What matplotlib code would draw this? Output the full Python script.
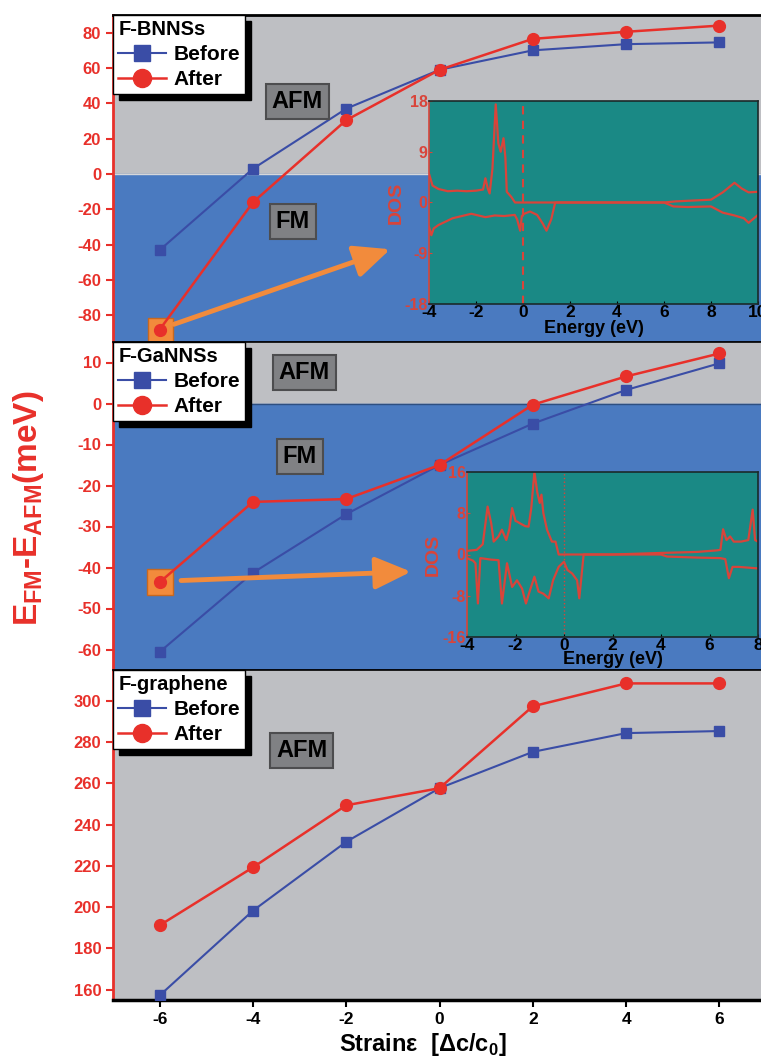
import matplotlib
matplotlib.use("Agg")
import matplotlib.pyplot as plt
from matplotlib.lines import Line2D
from matplotlib.patches import FancyArrowPatch

plt.rcParams['font.family'] = ['Liberation Sans', 'DejaVu Sans']
plt.rcParams['font.weight'] = 'bold'
plt.rcParams['axes.unicode_minus'] = False
plt.rcParams['mathtext.fontset'] = 'custom'
plt.rcParams['mathtext.rm'] = 'Liberation Sans'
plt.rcParams['mathtext.bf'] = 'Liberation Sans:bold'

# ---- data ----
strain = [-6, -4, -2, 0, 2, 4, 6]

bn_before = [-43, 3, 37, 59, 70, 73.5, 74.5]
bn_after = [-88, -16, 30.5, 59, 76.5, 80.5, 84]
gan_before = [-60.6, -41.3, -27, -15, -4.9, 3.3, 9.8]
gan_after = [-43.6, -24, -23.3, -15, -0.3, 6.6, 12.2]
gr_before = [157.2, 198.3, 231.7, 257.7, 275.3, 284.4, 285.4]
gr_after = [191.2, 219.3, 249.4, 257.7, 297.4, 308.5, 308.5]

panel_names = ['F-BNNSs', 'F-GaNNSs', 'F-graphene']
series_names = ['Before', 'After']

# DOS of F-BNNSs at -6% (spin up / spin down)
dos1_up_e = [-4.0, -3.85, -3.6, -3.2, -2.8, -2.4, -2.0, -1.7, -1.6, -1.5, -1.42, -1.3,
             -1.16, -1.05, -0.95, -0.83, -0.75, -0.69, -0.5, -0.34, 0.0, 2.0, 4.0,
             6.0, 6.5, 7.5, 8.0, 8.5, 9.0, 9.3, 9.6, 10.0]
dos1_up = [5.1, 3.0, 2.4, 2.0, 2.1, 2.0, 2.1, 2.3, 4.3, 2.5, 1.6, 6.0,
           17.4, 10.5, 9.0, 11.4, 8.0, 1.9, 1.0, 0.0, 0.0, 0.0, 0.0,
           0.0, 0.2, 0.4, 0.5, 1.8, 3.5, 2.5, 1.8, 1.9]
dos1_dn_e = [-4.0, -3.9, -3.8, -3.6, -3.3, -3.0, -2.6, -2.2, -2.0, -1.6, -1.2, -0.8,
             -0.35, -0.25, -0.12, -0.05, 0.05, 0.3, 0.6, 0.85, 1.0, 1.2, 1.37, 2.0,
             4.0, 6.0, 6.4, 7.0, 8.0, 8.5, 9.0, 9.4, 9.6, 10.0]
dos1_dn = [-4.3, -5.8, -4.6, -4.0, -3.4, -2.8, -2.4, -2.0, -2.2, -2.6, -2.3, -2.4,
           -2.2, -3.0, -5.0, -2.4, -2.0, -1.6, -2.2, -3.8, -5.0, -3.0, 0.0, 0.0,
           0.0, 0.0, -0.7, -0.8, -0.7, -1.8, -2.3, -2.8, -3.6, -2.2]

# DOS of F-GaNNSs at -6%
dos2_up_e = [-4.0, -3.6, -3.35, -3.15, -3.0, -2.9, -2.7, -2.56, -2.38, -2.25, -2.14,
             -2.0, -1.94, -1.8, -1.6, -1.46, -1.35, -1.22, -1.1, -1.0, -0.93, -0.85,
             -0.7, -0.5, -0.35, -0.22, 0.0, 2.0, 4.0, 5.5, 6.3, 6.45, 6.56, 6.7,
             6.85, 7.0, 7.3, 7.6, 7.78, 7.88, 8.0]
dos2_up = [0.7, 0.9, 2.0, 9.3, 6.0, 2.5, 3.5, 4.8, 2.8, 5.0, 9.0,
           6.5, 6.4, 6.0, 5.5, 5.4, 9.0, 16.0, 12.0, 10.0, 11.6, 8.0,
           4.8, 2.5, 2.5, 0.0, 0.0, 0.0, 0.3, 0.5, 0.8, 0.9, 4.9, 2.8,
           3.5, 2.5, 2.5, 2.8, 8.7, 2.8, 2.5]
dos2_dn_e = [-4.0, -3.75, -3.65, -3.55, -3.45, -3.0, -2.7, -2.56, -2.35, -2.14, -1.94,
             -1.73, -1.57, -1.4, -1.22, -1.05, -0.85, -0.63, -0.45, -0.22, 0.0, 0.14,
             0.34, 0.54, 0.63, 0.81, 2.0, 4.0, 4.25, 5.5, 6.45, 6.65, 6.8, 6.95,
             7.2, 8.0]
dos2_dn = [-0.7, -1.2, -1.7, -9.5, -0.7, -1.0, -1.1, -9.5, -1.7, -6.3, -5.0,
           -6.6, -9.5, -6.9, -4.3, -7.2, -7.6, -8.5, -5.0, -2.4, -1.4, -3.0,
           -3.7, -5.0, -8.5, 0.0, 0.0, 0.0, -0.4, -0.6, -0.7, -0.9, -4.6, -2.4,
           -2.4, -2.7]

# ---- styles ----
BLUE = '#3A4DA6'
RED = '#E8302A'
GRAY_BG = '#BEBFC3'
BLUE_BG = '#4A7AC0'
ORANGE = '#F28B3C'
TEAL = '#1A8985'
DOSRED = '#D9443A'

fig = plt.figure(figsize=(7.61, 10.60), dpi=100)

left = 113 / 761
width = 653 / 761
panels = [
    (1 - 342 / 1060, 327 / 1060, (-95, 90), [-80, -60, -40, -20, 0, 20, 40, 60, 80]),
    (1 - 670 / 1060, 328 / 1060, (-65, 15), [-60, -50, -40, -30, -20, -10, 0, 10]),
    (1 - 1000 / 1060, 330 / 1060, (155, 315), [160, 180, 200, 220, 240, 260, 280, 300]),
]
data = [(bn_before, bn_after), (gan_before, gan_after), (gr_before, gr_after)]
afm_pos = [(-3.05, 41), (-2.9, 7.6), (-2.95, 276)]
fm_pos = [(-3.15, -26.6), (-3.0, -12.9), None]

axes = []
for i, (bot, h, ylim, yt) in enumerate(panels):
    ax = fig.add_axes([left, bot, width, h])
    ax.set_facecolor(GRAY_BG)
    ax.set_xlim(-7, 7)
    ax.set_ylim(*ylim)
    if i < 2:
        ax.axhspan(ylim[0], 0, color=BLUE_BG, zorder=0)
        ax.axhline(0, color='#D6D7DA' if i == 0 else '#2E4F80', lw=1, zorder=0.5)
    ax.set_yticks(yt)
    ax.set_xticks(strain)
    ax.tick_params(axis='y', colors=RED, labelsize=12, length=5, width=1.5, direction='out')
    for lab in ax.get_yticklabels():
        lab.set_fontweight('bold')
    ax.spines['left'].set_color(RED)
    ax.spines['left'].set_linewidth(2)
    ax.spines['right'].set_visible(False)
    ax.spines['top'].set_color('black')
    ax.spines['top'].set_linewidth(2 if i == 0 else 1.2)
    ax.spines['bottom'].set_color('black' if i == 2 else '#1F2F55')
    ax.spines['bottom'].set_linewidth(2.5 if i == 2 else 1.2)
    if i < 2:
        ax.tick_params(axis='x', bottom=False, labelbottom=False)
    else:
        ax.tick_params(axis='x', colors='black', labelsize=12.5, length=5, width=1.5)
        for lab in ax.get_xticklabels():
            lab.set_fontweight('bold')

    before, after = data[i]
    ax.plot(strain, before, color=BLUE, lw=1.5, marker='s', ms=7.5, zorder=3)
    ax.plot(strain, after, color=RED, lw=1.8, marker='o', ms=8.5, zorder=4)

    # AFM / FM labels
    boxes = [('AFM', afm_pos[i]), ('FM', fm_pos[i])]
    for txt, pos in boxes:
        if pos is None:
            continue
        ax.text(pos[0], pos[1], txt, ha='center', va='center', fontsize=17,
                fontweight='bold', color='black', zorder=5,
                bbox=dict(boxstyle='square,pad=0.25', fc='#808184', ec='#4D4D4F', lw=1.5))

    handles = [Line2D([], [], color=BLUE, lw=1.5, marker='s', ms=12),
               Line2D([], [], color=RED, lw=1.8, marker='o', ms=13)]
    leg = ax.legend(handles, series_names, title=panel_names[i], loc='upper left',
                    bbox_to_anchor=(0, 1), borderaxespad=0, fancybox=False,
                    edgecolor='black', framealpha=1, alignment='left',
                    handlelength=2.3, handletextpad=0.35, labelspacing=0.28,
                    borderpad=0.25, prop=dict(weight='bold', size=15),
                    title_fontproperties=dict(weight='bold', size=14.5),
                    shadow={'ox': 4, 'oy': -4, 'facecolor': 'black', 'edgecolor': 'black', 'alpha': 1})
    leg.get_frame().set_linewidth(1)
    leg.set_zorder(6)
    axes.append(ax)

# orange highlight squares and arrows
ax1, ax2, ax3 = axes
ax1.plot(strain[0], bn_after[0], marker='s', ms=18, mfc=ORANGE, mec='#C8681F', zorder=2.5,
         clip_on=False)
ax2.plot(strain[0], gan_after[0], marker='s', ms=19, mfc=ORANGE, mec='#C8681F', zorder=2.5)
for ax, start, end in [(ax1, (-5.75, -85.5), (-1.0, -42)), (ax2, (-5.6, -43.2), (-0.55, -41))]:
    arr = FancyArrowPatch(start, end, arrowstyle='-|>,head_length=1.0,head_width=0.45',
                          mutation_scale=22, color=ORANGE, lw=3.5, zorder=3.5)
    ax.add_patch(arr)

ax3.set_xlabel('Strainε  [Δc/c$_\\mathbf{0}$]', fontsize=17, fontweight='bold')
ax3.xaxis.set_label_coords(0.475, -0.095)
fig.text(0.038, 1 - 508 / 1060, 'E$_\\mathbf{FM}$-E$_\\mathbf{AFM}$(meV)', rotation=90,
         ha='center', va='center', fontsize=24, fontweight='bold', color=RED)

# DOS insets
insets = [
    ([429 / 761, 1 - 304 / 1060, 329 / 761, 203 / 1060], (-4, 10), (-18, 18),
     [-18, -9, 0, 9, 18], list(range(-4, 11, 2)),
     dos1_up_e, dos1_up, dos1_dn_e, dos1_dn, (0, (4, 3)), 1.5, 0),
    ([467 / 761, 1 - 637 / 1060, 291 / 761, 165 / 1060], (-4, 8), (-16, 16),
     [-16, -8, 0, 8, 16], list(range(-4, 9, 2)),
     dos2_up_e, dos2_up, dos2_dn_e, dos2_dn, ':', 1.0, -2),
]
for rect, xl, yl, yt, xt, ue, uv, de, dv, ls, lw0, lpad in insets:
    ia = fig.add_axes(rect)
    ia.set_facecolor(TEAL)
    ia.set_xlim(*xl)
    ia.set_ylim(*yl)
    ia.set_yticks(yt)
    ia.set_xticks(xt)
    ia.plot(ue, uv, color=DOSRED, lw=1.6)
    ia.plot(de, dv, color=DOSRED, lw=1.6)
    ia.axvline(0, color=DOSRED, ls=ls, lw=lw0)
    ia.tick_params(axis='y', colors=DOSRED, labelsize=11.5, length=2, pad=1, direction='in')
    ia.tick_params(axis='x', colors='black', labelsize=12.5, length=2, pad=1, direction='in')
    for lab in ia.get_yticklabels() + ia.get_xticklabels():
        lab.set_fontweight('bold')
    for s in ['top', 'right', 'bottom']:
        ia.spines[s].set_color('#1B2A2A')
        ia.spines[s].set_linewidth(1.2)
    ia.spines['left'].set_color(DOSRED)
    ia.spines['left'].set_linewidth(1.2)
    ia.set_ylabel('DOS', color=DOSRED, fontsize=14, fontweight='bold', labelpad=0)
    ia.set_xlabel('Energy (eV)', color='black', fontsize=13, fontweight='bold', labelpad=lpad)

fig.savefig('out.png', dpi=100)
